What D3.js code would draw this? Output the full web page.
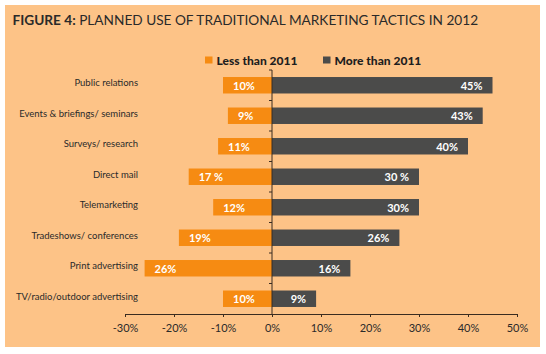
<!DOCTYPE html>
<html>
<head>
<meta charset="utf-8">
<script src="https://cdn.jsdelivr.net/npm/d3@7"></script>
<style>
  body { margin: 0; background: #fff; }
  svg { display: block; font-family: Lato, "Open Sans", sans-serif; }
</style>
</head>
<body>
<svg id="chart"></svg>
<script>
// data
const categories = [
  "Public relations",
  "Events & briefings/ seminars",
  "Surveys/ research",
  "Direct mail",
  "Telemarketing",
  "Tradeshows/ conferences",
  "Print advertising",
  "TV/radio/outdoor advertising"
];
const lessThan2011 = [10, 9, 11, 17, 12, 19, 26, 10];
const moreThan2011 = [45, 43, 40, 30, 30, 26, 16, 9];
const lessLabels = ["10%", "9%", "11%", "17 %", "12%", "19%", "26%", "10%"];
const moreLabels = ["45%", "43%", "40%", "30 %", "30%", "26%", "16%", "9%"];
const xTicks = [-30, -20, -10, 0, 10, 20, 30, 40, 50];
const seriesNames = ["Less than 2011", "More than 2011"];

const W = 546, H = 354;
const bg = "#fdc387", orange = "#f68b12", dark = "#4b4b4a", ink = "#2a2a2a";

const svg = d3.select("#chart").attr("width", W).attr("height", H);

// panel
svg.append("rect")
  .attr("x", 5).attr("y", 5)
  .attr("width", 535).attr("height", 342)
  .attr("fill", bg);

// title, scaled to the width it takes in the figure
const title = svg.append("text")
  .attr("x", 12.5).attr("y", 24.5)
  .attr("fill", ink)
  .style("font-size", "14px");
title.append("tspan").attr("font-weight", 700).text("FIGURE 4:");
title.append("tspan").text(" PLANNED USE OF TRADITIONAL MARKETING TACTICS IN 2012");
let tw = title.node().getComputedTextLength();
title.style("font-size", (14 * 466 / tw) + "px");

const xScale = d3.scaleLinear().domain([-30, 50]).range([125, 517]);
const yScale = d3.scaleBand()
  .domain(categories)
  .range([70, 314])
  .paddingInner(0.46)
  .paddingOuter(0.23);

const rows = categories.map((c, i) => ({
  cat: c,
  less: lessThan2011[i],
  more: moreThan2011[i],
  lessLabel: lessLabels[i],
  moreLabel: moreLabels[i]
}));

// bars
svg.append("g").selectAll("rect")
  .data(rows)
  .join("rect")
  .attr("x", d => xScale(-d.less))
  .attr("y", d => yScale(d.cat))
  .attr("width", d => xScale(0) - xScale(-d.less))
  .attr("height", yScale.bandwidth())
  .attr("fill", orange);

svg.append("g").selectAll("rect")
  .data(rows)
  .join("rect")
  .attr("x", xScale(0))
  .attr("y", d => yScale(d.cat))
  .attr("width", d => xScale(d.more) - xScale(0))
  .attr("height", yScale.bandwidth())
  .attr("fill", dark);

// value labels
svg.append("g").selectAll("text")
  .data(rows)
  .join("text")
  .attr("x", d => xScale(-d.less) + 10)
  .attr("y", d => yScale(d.cat) + yScale.bandwidth() / 2 + 4.5)
  .attr("fill", "#fff")
  .attr("font-weight", 700)
  .style("font-size", "11px")
  .text(d => d.lessLabel);

svg.append("g").selectAll("text")
  .data(rows)
  .join("text")
  .attr("x", d => xScale(d.more) - 10)
  .attr("y", d => yScale(d.cat) + yScale.bandwidth() / 2 + 4.5)
  .attr("text-anchor", "end")
  .attr("fill", "#fff")
  .attr("font-weight", 700)
  .style("font-size", "11px")
  .text(d => d.moreLabel);

// category labels
svg.append("g").selectAll("text")
  .data(rows)
  .join("text")
  .attr("x", 138)
  .attr("y", d => yScale(d.cat) + yScale.bandwidth() / 2 + 1)
  .attr("text-anchor", "end")
  .attr("fill", ink)
  .style("font-size", "9.5px")
  .text(d => d.cat);

// x axis
const axisColor = "#3a2c20";
const xAxis = svg.append("g")
  .attr("transform", `translate(0,${yScale.range()[1]})`)
  .call(d3.axisBottom(xScale)
    .tickValues(xTicks)
    .tickSize(3)
    .tickSizeOuter(0)
    .tickPadding(7)
    .tickFormat(d => d + "%"));
xAxis.select(".domain").attr("stroke", axisColor);
xAxis.selectAll(".tick line").attr("stroke", axisColor);
xAxis.selectAll(".tick text")
  .attr("fill", ink)
  .style("font-size", "11px")
  .style("font-family", "Lato, sans-serif");

// y axis: vertical line at zero with ticks between categories
const step = yScale.step();
const boundaries = categories.map(c => yScale(c) - step * yScale.paddingInner() / 2);
const yAxis = svg.append("g");
yAxis.append("line")
  .attr("x1", xScale(0)).attr("x2", xScale(0))
  .attr("y1", yScale.range()[0]).attr("y2", yScale.range()[1])
  .attr("stroke", axisColor);
yAxis.selectAll(".yt")
  .data(boundaries)
  .join("line")
  .attr("class", "yt")
  .attr("x1", xScale(0) - 3).attr("x2", xScale(0))
  .attr("y1", d => d).attr("y2", d => d)
  .attr("stroke", axisColor);

// legend
const legendX = [205, 323];
const legend = svg.append("g").selectAll("g")
  .data(seriesNames)
  .join("g")
  .attr("transform", (d, i) => `translate(${legendX[i]},56.5)`);
legend.append("rect")
  .attr("width", 7.5).attr("height", 7)
  .attr("fill", (d, i) => i === 0 ? orange : dark);
legend.append("text")
  .attr("x", 11.5).attr("y", 8.5)
  .attr("fill", "#1e1e1e")
  .attr("font-weight", 900)
  .style("font-size", "12px")
  .text(d => d);
</script>
</body>
</html>
